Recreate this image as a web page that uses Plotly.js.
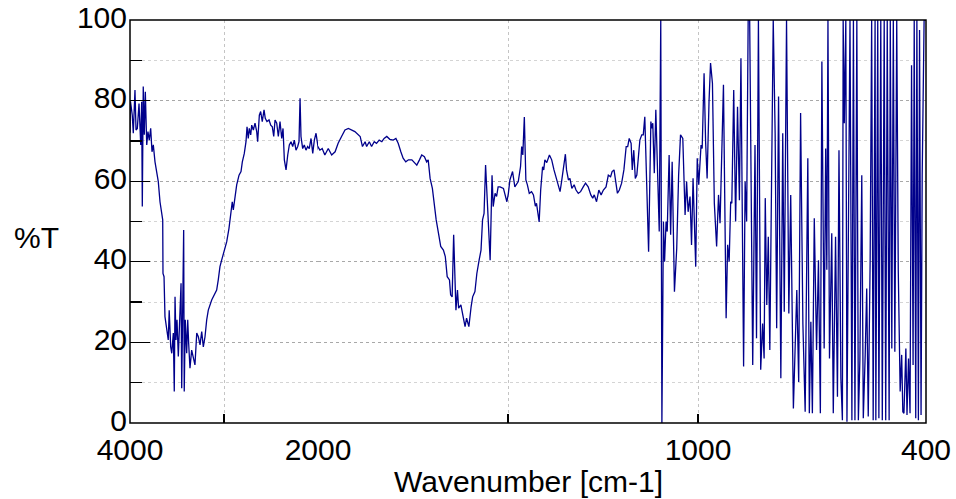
<!DOCTYPE html>
<html><head><meta charset="utf-8">
<script src="https://cdn.plot.ly/plotly-3.0.1.min.js"></script>
<style>html,body{margin:0;padding:0;background:#fff}#chart{width:956px;height:499px}</style>
</head><body><div id="chart"></div>
<script>
// Wavenumber (cm-1) and transmittance (%T)
const wavenumber = [
4000,3995,3976,3965,3947,3936,3922,3904,3886,3876,3869,3859,3848,3837,3822,3809,3795,3780,3766,3752,
3734,3716,3699,3681,3663,3652,3649,3638,3628,3610,3593,3583,3567,3556,3539,3529,3521,3511,3500,3486,
3476,3457,3450,3439,3429,3423,3412,3397,3386,3376,3362,3344,3327,3309,3290,3273,3255,3237,3220,3202,
3184,3167,3131,3096,3078,3061,3043,3025,2989,2971,2947,2926,2912,2901,2883,2865,2840,2819,2805,2784,
2766,2755,2742,2731,2716,2705,2688,2670,2652,2642,2624,2610,2593,2574,2561,2543,2521,2503,2486,2471,
2457,2439,2422,2404,2386,2372,2358,2340,2322,2305,2287,2269,2252,2234,2216,2202,2191,2181,2163,2146,
2128,2110,2093,2074,2056,2039,2021,2003,
1995,1989,1982,1973,1964,1955,1947,1938,1929,1920,1911,1903,1889,1883,1876,1872,1865,1859,1852,1846,
1839,1832,1826,1819,1811,1802,1795,1789,1782,1776,1769,1762,1753,1747,1740,1733,1727,1720,1714,1710,
1705,1699,1695,1689,1683,1677,1670,1665,1660,1654,1651,1647,1643,1640,1637,1633,1630,1624,1619,1613,
1609,1603,1597,1593,1587,1582,1576,1571,1567,1563,1559,1556,1553,1547,1542,1539,1534,1530,1526,1521,
1512,1503,1499,1495,1488,1482,1473,1467,1464,1461,1457,1453,1449,1444,1438,1433,1428,1425,1418,1414,
1409,1406,1403,1398,1391,1385,1379,1372,1363,1359,1353,1349,1346,1341,1337,1332,1326,1321,1315,1309,
1302,1296,1289,1282,1277,1273,1267,1261,1255,1249,1242,1236,1230,1226,1221,1217,1212,1207,1201,1195,
1189,1185,1181,1176,1173,1169,1165,1161,1156,1153,1148,1144,1140,1135,1130,1124,1122,1119,1115,1111,
1106,1102,1098,1095,1091,1088,1084,1081,1076,1072,1068,1062,1056,1051,1046,1040,1034,1030,1026,1021,
1017,1013,1006,1002,998,992,989,984,980,976,971,967,962,957,951,946,942,938,933,926,
922,918,914,911,906,901,896,891,887,880,876,872,868,864,856,850,846,841,835,830,
826,823,819,815,811,802,797,793,788,782,777,773,767,761,756,749,745,740,735,730,
724,718,711,707,703,699,694,688,683,678,674,668,664,661,658,654,648,644,638,633,
629,624,620,618,615,611,608,603,600,595,591,587,582,578,574,569,565,560,556,552,
547,543,539,534,532,527,524,519,515,510,506,502,497,494,490,486,482,477,473,468,
464,461,458,453,450,446,442,438,434,431,427,424,420,417,413,410,405,400
];
const transmittance = [
72,79.8,76.4,71.9,82.6,72.7,73.1,79.3,69,79.7,53.7,83.5,71.5,82.2,69,72.3,70.2,73.1,67.3,69,
64.8,62.4,59.9,54.9,52,50.4,37.1,36.3,26.4,23.1,20.6,28,18.9,17.3,22.3,7.8,31.3,20.6,25.6,16.5,
22.3,34.7,8.6,23.9,47.9,7.8,25.6,17.3,25.6,19.8,13.6,18.1,16.5,14.4,22.3,21.4,19.4,22.7,18.9,21.4,
25.6,28,30.5,32.2,33,35.5,38.8,40.4,43.3,45,48.3,53.3,54.9,52.9,56.6,59.1,61.5,62.4,64.8,66.9,
69.8,73.5,70.6,73.1,71.5,73.9,72.7,74.4,72.3,69.8,76.4,77.3,74.8,77.7,75.6,74.8,75.2,73.9,73.5,71.1,
75.2,74.4,71.1,74.8,70.6,73.1,65.3,62.8,66.5,69,69.8,68.6,70.2,67.7,68.6,69.8,80.6,71.1,68.1,69,
67.7,68.6,68.1,70.6,66.9,70.2,71.9,69,
67.7,68.1,66.5,68.1,66.5,67.3,69.4,71.1,72.7,73.1,72.7,72.3,71.1,68.6,69.8,68.6,69.8,68.6,69.8,69.4,
70.2,69.8,70.6,71.1,70.4,70.2,70.6,69.4,67.3,65.7,64.8,65.3,65.3,64.8,64,65.3,66.5,66.1,64.8,65.3,
60.7,58.2,54.5,50.4,47.1,43.8,42.9,41.3,36.3,35.5,31.8,31.3,46.7,38.8,28,33,28.5,29.3,27.2,23.9,
26,23.9,28.9,31.3,32.6,37.1,40.4,42.9,50.4,52,64,57.8,49.6,40.4,61.5,53.7,57,56.2,58.6,58.6,
58.2,54.9,57,60.3,62.4,58.6,59.9,63.6,68.6,66.5,75.9,60.3,59.1,57,57.4,56.6,53.8,54.5,49.9,57.8,
63.6,62.8,65.3,64.6,66.5,65.3,62.8,60.3,57.4,59.9,63.6,66.7,62.8,60.3,60.7,58.2,59.1,57.8,57,57.4,
58.6,59.5,58.6,56.6,55.8,56.6,54.9,57.8,56.6,57.8,58.6,61.5,61.1,62.4,62.8,60.3,57,57.8,59.5,62.8,
68.6,68.6,70.6,69.4,62.8,67.7,60.7,61.5,66.1,70.2,71.5,71.5,76,60.3,42.5,74.8,73.1,74.4,62,77.7,
57.8,47.5,100,0,50,40,50,47.5,66.5,46.7,64.8,32.6,43.3,61.5,71.5,70.6,51.6,59.9,52.4,56.2,
44.2,60.7,38.8,65.7,59.1,69,68.1,86.8,69.8,60.7,79.7,89.3,84.3,54.5,43.8,56.6,49.6,67.3,83.9,26,
44.2,40,54.9,54.5,82.6,50,78.5,55.3,90.5,14,59.9,50,100,100,14.4,69,21,100,13.2,24.7,
16,55.8,29.3,46.2,18.1,100,71.9,23.5,81,11.1,71.9,27.6,100,27.2,56.6,3.6,16,33,10.2,76.9,
24.7,2.8,65.7,2.4,25.1,2.4,50.8,18.1,40.4,2.4,89.7,18.5,68.1,38,100,16,47.1,2.4,46.2,6.5,
67.7,11.1,0.7,100,74.4,100,0.3,65.7,100,0.7,100,0.7,100,0.7,15.6,61.5,1.2,16.9,33.4,1.6,
40,100,0.7,100,0.7,100,1.2,100,0.7,100,0.7,100,0.7,100,18.5,100,17.7,100,38,7.8,
16.9,2.8,2.4,18.5,2,16,2.4,88.8,14.4,100,1.2,100,0.7,97.5,2,61.5,100,100
];
const xTickVals1 = [4000, 3000, 2000];
const xTickText1 = ['4000', '', '2000'];
const xTickVals2 = [2000, 1500, 1000, 400];
const xTickText2 = ['', '', '1000', '400'];
const yTickVals = [0, 20, 40, 60, 80, 100];
const yMinorVals = [10, 30, 50, 70, 90];
const breakWn = 2000;

const x1 = [], y1 = [], x2 = [], y2 = [];
wavenumber.forEach((w, i) => {
  if (w >= breakWn - 20) { x1.push(w); y1.push(transmittance[i]); }
  if (w <= breakWn + 25) { x2.push(w); y2.push(transmittance[i]); }
});

const lineStyle = {color: '#00008b', width: 1.3};
const traces = [
  {x: x1, y: y1, xaxis: 'x', yaxis: 'y', type: 'scatter', mode: 'lines', line: lineStyle, hoverinfo: 'skip'},
  {x: x2, y: y2, xaxis: 'x2', yaxis: 'y', type: 'scatter', mode: 'lines', line: lineStyle, hoverinfo: 'skip'}
];

const font = {family: 'Liberation Sans, Arial, sans-serif', size: 30, color: '#000'};
const split = 188 / 796;
const xCommon = {
  tickmode: 'array', ticks: 'inside', ticklen: 9, tickwidth: 1.3, tickcolor: '#000',
  showgrid: true, gridcolor: '#c4c4c4', griddash: 'dot', gridwidth: 1,
  zeroline: false, showline: false, tickfont: font, fixedrange: true, ticklabelstandoff: 6
};
const layout = {
  width: 956, height: 499,
  margin: {l: 130, r: 30, t: 20, b: 76},
  paper_bgcolor: '#fff', plot_bgcolor: '#fff',
  showlegend: false,
  font: font,
  xaxis: Object.assign({}, xCommon, {domain: [0, split], range: [4000, 2000], anchor: 'y', tickvals: xTickVals1, ticktext: xTickText1}),
  xaxis2: Object.assign({}, xCommon, {domain: [split, 1], range: [2000, 400], anchor: 'y', tickvals: xTickVals2, ticktext: xTickText2}),
  yaxis: {
    range: [0, 100], tickmode: 'array', tickvals: yTickVals, ticks: 'inside', ticklen: 20, tickwidth: 1.3, tickcolor: '#000',
    showgrid: true, gridcolor: '#a8a8a8', griddash: 'dot', gridwidth: 1,
    minor: {tickmode: 'array', tickvals: yMinorVals, ticks: 'inside', ticklen: 12, tickwidth: 1.3, tickcolor: '#000', showgrid: true, gridcolor: '#d4d4d4', griddash: 'dot', gridwidth: 1},
    zeroline: false, showline: false, tickfont: font, fixedrange: true, ticklabelstandoff: 2, ticklabelshift: -3
  },
  shapes: [
    {type: 'rect', xref: 'paper', yref: 'paper', x0: 0, x1: 1, y0: 0, y1: 1, line: {color: '#000', width: 1.5}, layer: 'above'}
  ],
  annotations: [
    {text: 'Wavenumber [cm-1]', xref: 'paper', yref: 'paper', x: 0.5, y: 0, yshift: -58, xanchor: 'center', yanchor: 'middle', showarrow: false, font: font},
    {text: '%T', xref: 'paper', yref: 'paper', x: 0, xshift: -94, y: 0.4615, xanchor: 'center', yanchor: 'middle', showarrow: false, font: font}
  ]
};
Plotly.newPlot('chart', traces, layout, {staticPlot: true, displayModeBar: false});
</script>
</body></html>
